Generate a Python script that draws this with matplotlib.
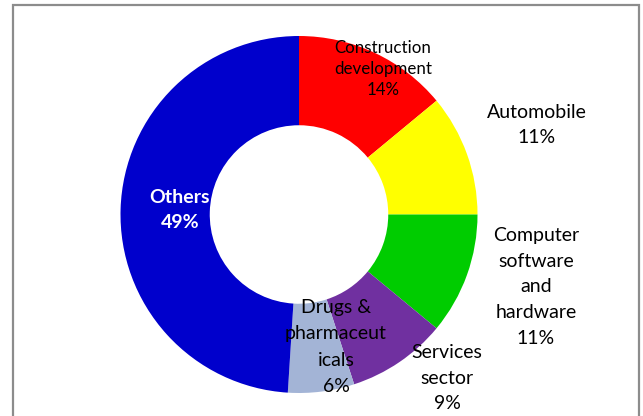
import matplotlib
matplotlib.use("Agg")
import matplotlib.pyplot as plt
from matplotlib.patches import Rectangle

# Industry shares (percent), clockwise from 12 o'clock
categories = ["Construction\ndevelopment", "Automobile", "Computer\nsoftware\nand\nhardware",
              "Services\nsector", "Drugs &\npharmaceut\nicals", "Others"]
shares = [14, 11, 11, 9, 6, 49]
colors = ["#FF0000", "#FFFF00", "#00CC00", "#7030A0", "#A3B4D6", "#0000CC"]

W, H = 643, 416
fig = plt.figure(figsize=(W / 100, H / 100), dpi=100)
ax = fig.add_axes([0, 0, 1, 1])

cx, cy, R = 299, H - 214.5, 178.5
ax.pie(shares, colors=colors, startangle=90, counterclock=False,
       center=(cx, cy), radius=R, wedgeprops=dict(width=R * 0.5, linewidth=0),
       frame=True)
ax.set_xlim(0, W)
ax.set_ylim(0, H)
ax.set_aspect("equal")
ax.axis("off")

# label anchors (pixel positions from top-left), font size, colour, weight, line spacing
layout = [
    ((383, 69), 12.2, "black", "normal", 1.4),
    ((537, 125), 14, "black", "normal", 1.6),
    ((536, 287), 14, "black", "normal", 1.62),
    ((447, 378), 14, "black", "normal", 1.6),
    ((336, 347), 14, "black", "normal", 1.68),
    ((180, 210), 14, "white", "bold", 1.6),
]
for name, val, ((x, y), fs, col, wt, ls) in zip(categories, shares, layout):
    ax.text(x, H - y, f"{name}\n{val}%", ha="center", va="center",
            fontsize=fs, color=col, fontweight=wt, linespacing=ls,
            family="Lato")

ax.add_patch(Rectangle((13, -10), 626, H - 5 + 10, fill=False,
                       edgecolor="#8C8C8C", linewidth=1.6, clip_on=False))

fig.savefig("out.png", dpi=100)
